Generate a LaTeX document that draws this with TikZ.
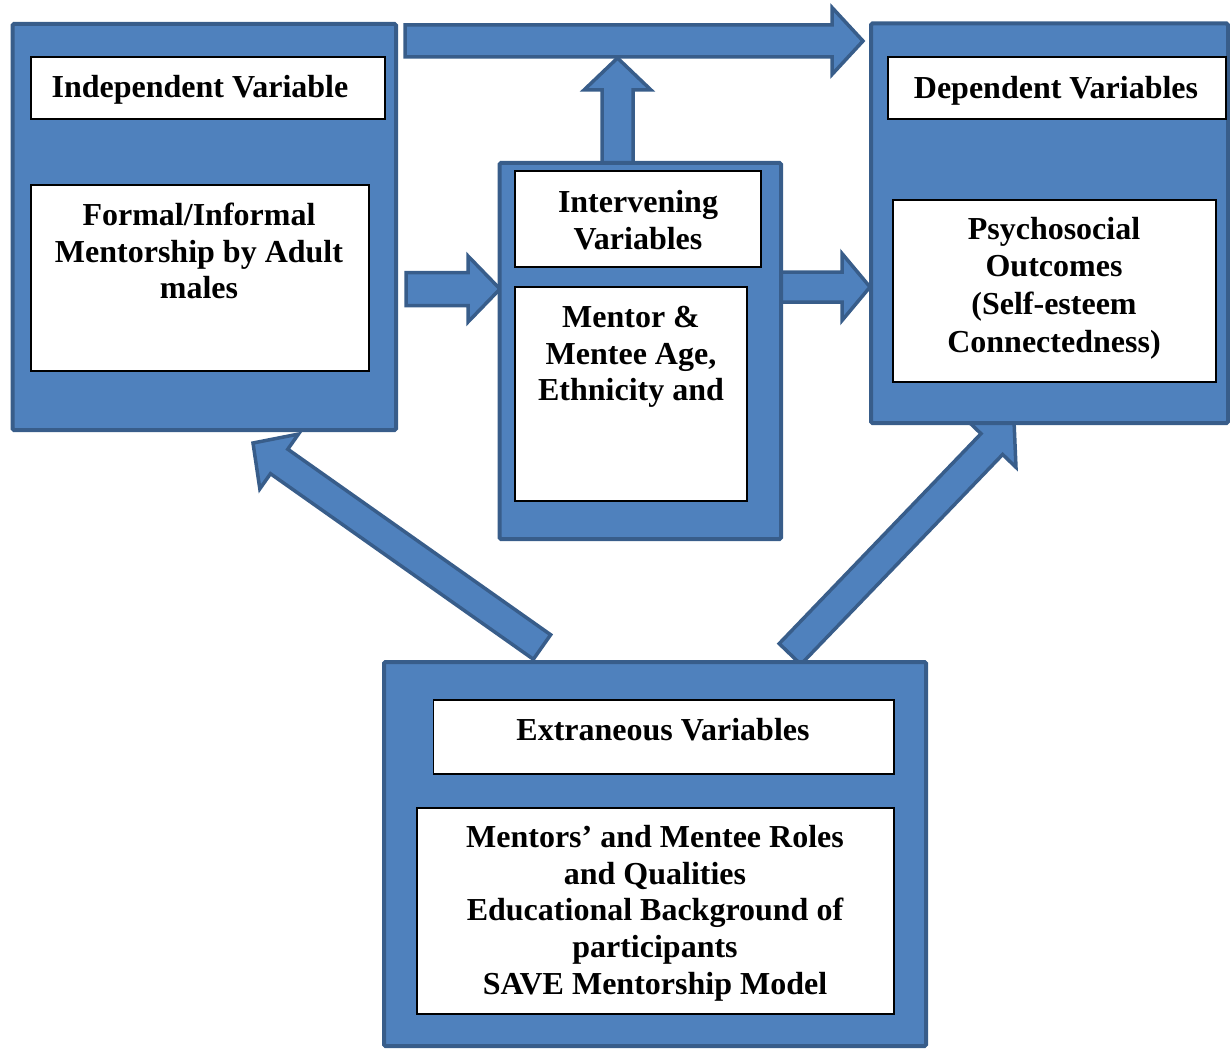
\documentclass[tikz,border=0pt]{standalone}
\usepackage{fontspec}
\setmainfont{Liberation Serif}
\usetikzlibrary{calc,fit}
\definecolor{boxfill}{RGB}{79,129,189}
\definecolor{boxline}{RGB}{56,93,138}
\newcommand{\blockarrow}[5]{%
  \coordinate (ba-h) at ($(#2)!#5!(#1)$);
  \draw[barrow] ($(#1)!#3!90:(#2)$) -- ($(ba-h)!#3!-90:(#1)$) -- ($(ba-h)!#4!-90:(#1)$) -- (#2)
    -- ($(ba-h)!#4!90:(#1)$) -- ($(ba-h)!#3!90:(#1)$) -- ($(#1)!#3!-90:(#2)$) -- cycle;}
\begin{document}
\begin{tikzpicture}[x=1pt,y=-1pt,
  bigbox/.style={draw=boxline,fill=boxfill,line width=4pt,rounded corners=1.5pt,inner sep=0pt},
  wbox/.style={draw=black,fill=white,line width=1.2pt,inner sep=0pt},
  barrow/.style={draw=boxline,fill=boxfill,line width=3.5pt,line join=miter},
  txt/.style={font=\fontsize{32}{36.8}\selectfont\bfseries,inner sep=0pt,align=center,anchor=north},
  txtwide/.style={txt,font=\fontsize{32}{37.6}\selectfont\bfseries}]
\useasboundingbox (0,0) rectangle (1230,1051);
% connector end points
\coordinate (topS) at (405,41);
\coordinate (topE) at (863,41);
\coordinate (upS) at (617.5,163);
\coordinate (upE) at (617.5,58);
\coordinate (lmS) at (406,289);
\coordinate (lmE) at (500,289);
\coordinate (mrS) at (781,287);
\coordinate (mrE) at (870,287);
\coordinate (dlS) at (542,647);
\coordinate (dlE) at (253,443);
\coordinate (drS) at (790,654);
\coordinate (drE) at (1014,421);
% block arrows
\blockarrow{topS}{topE}{16pt}{33.5pt}{31pt}
\blockarrow{upS}{upE}{15.5pt}{33.5pt}{32pt}
\blockarrow{lmS}{lmE}{16.5pt}{33pt}{32pt}
\blockarrow{mrS}{mrE}{15pt}{33.5pt}{28pt}
\blockarrow{dlS}{dlE}{15pt}{33.5pt}{32pt}
\blockarrow{drS}{drE}{15pt}{33.5pt}{32pt}
% outer boxes
\node[bigbox,fit={(12.5,24) (396,430)}] (indep) {};
\node[bigbox,fit={(499.5,163) (781,539)}] (interv) {};
\node[bigbox,fit={(871,23.5) (1228,423)}] (dep) {};
\node[bigbox,fit={(384,662) (926,1046)}] (extr) {};
% white boxes
\node[wbox,fit={(31,57) (385,119)}] (indepT) {};
\node[wbox,fit={(31,185) (369,371)}] (indepB) {};
\node[wbox,fit={(515,171) (761,267)}] (intervT) {};
\node[wbox,fit={(515,287) (747,501)}] (intervB) {};
\node[wbox,fit={(888,57) (1226,119)}] (depT) {};
\node[wbox,fit={(893,200) (1216,382)}] (depB) {};
\node[wbox,fit={(433.5,700) (894,774)}] (extrT) {};
\node[wbox,fit={(417,808) (894,1014)}] (extrB) {};
% texts
\node[txt] (t1) at (200,69) {\rule{0pt}{28pt}Independent Variable};
\node[txt] (t2) at (199,197) {\rule{0pt}{28pt}Formal/Informal\\Mentorship by Adult\\males};
\node[txt] (t3) at (638,184) {\rule{0pt}{28pt}Intervening\\Variables};
\node[txt] (t4) at (631,299) {\rule{0pt}{28pt}Mentor \&\\Mentee Age,\\Ethnicity and};
\node[txt] (t5) at (1056,70) {\rule{0pt}{28pt}Dependent Variables};
\node[txtwide] (t6) at (1054,211) {\rule{0pt}{28pt}Psychosocial\\Outcomes\\(Self-esteem\\Connectedness)};
\node[txt] (t7) at (663,712) {\rule{0pt}{28pt}Extraneous Variables};
\node[txt] (t8) at (655,819) {\rule{0pt}{28pt}Mentors’ and Mentee Roles\\and Qualities\\Educational Background of\\participants\\SAVE Mentorship Model};
\end{tikzpicture}
\end{document}
